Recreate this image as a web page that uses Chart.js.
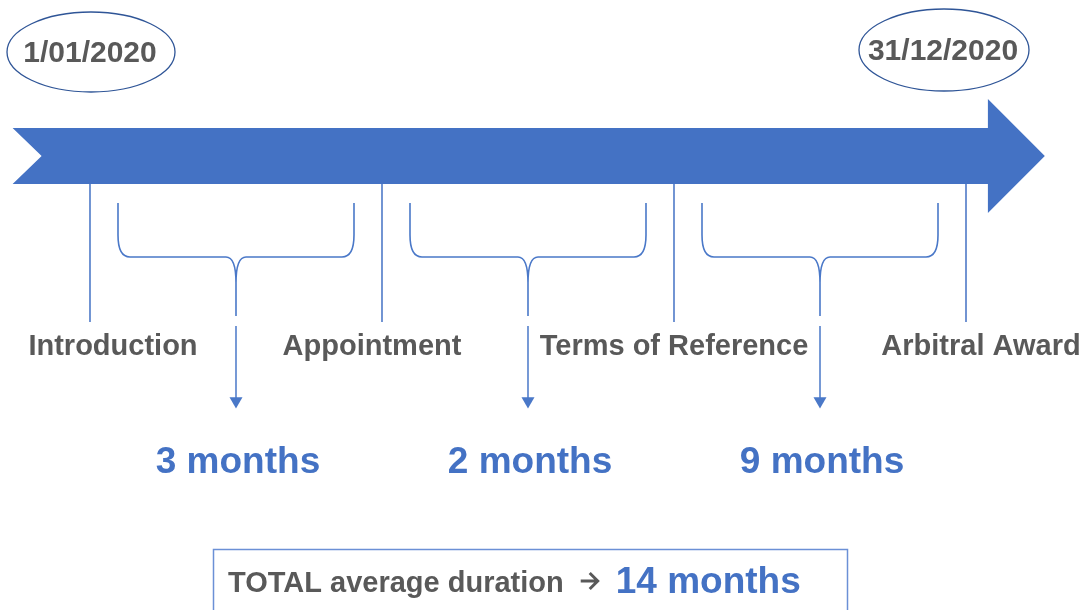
<!DOCTYPE html>
<html>
<head>
<meta charset="utf-8">
<script src="https://cdn.jsdelivr.net/npm/chart.js@4"></script>
<style>
  html, body { margin: 0; padding: 0; background: #fff; }
  #wrap { width: 1088px; height: 610px; }
</style>
</head>
<body>
<div id="wrap"><canvas id="timeline" width="1088" height="610"></canvas></div>
<script>
'use strict'

//Data
let milestones = ['Introduction', 'Appointment', 'Terms of Reference', 'Arbitral Award']
let durations = [3, 2, 9]          // months between two milestones
let startDate = '1/01/2020'
let endDate = '31/12/2020'
let unit = 'months'

let totalMonths = durations.reduce((a, b) => a + b, 0)

//Colours
let blue = '#4472C4'
let lineBlue = '#4a78c8'
let grey = '#595959'
let font = '"Liberation Sans", Arial, sans-serif'

let ctx = document.getElementById('timeline').getContext('2d')

//Vertical milestone lines + down arrows under each brace
let datasets = []
milestones.forEach((m, i) => {
    datasets.push({
        label: m,
        data: [{x: i, y: 184}, {x: i, y: 322}],
        showLine: true,
        borderColor: blue,
        borderWidth: 1.5,
        pointRadius: 0
    })
})
durations.forEach((d, i) => {
    datasets.push({
        label: d + ' ' + unit,
        data: [{x: i + 0.5, y: 326}, {x: i + 0.5, y: 401}],
        showLine: true,
        borderColor: lineBlue,
        borderWidth: 1.5,
        pointStyle: 'triangle',
        pointRotation: 180,
        pointRadius: [0, 7.5],
        pointBackgroundColor: lineBlue,
        pointBorderWidth: 0
    })
})

function drawText(c, txt, x, y, size, color, align) {
    c.font = 'bold ' + size + 'px ' + font
    c.fillStyle = color
    c.textAlign = align || 'center'
    c.textBaseline = 'alphabetic'
    c.fillText(txt, x, y)
}

function brace(c, L, R, C) {
    let T = 203, M = 257, B = 316
    c.beginPath()
    c.moveTo(L, T)
    c.lineTo(L, M - 22)
    c.quadraticCurveTo(L, M, L + 12, M)
    c.lineTo(C - 10, M)
    c.quadraticCurveTo(C, M, C, M + 26)
    c.lineTo(C, B)
    c.moveTo(C, M + 26)
    c.quadraticCurveTo(C, M, C + 10, M)
    c.lineTo(R - 12, M)
    c.quadraticCurveTo(R, M, R, M - 22)
    c.lineTo(R, T)
    c.stroke()
}

let timelinePlugin = {
    id: 'timeline',
    beforeDatasetsDraw(chart) {
        let c = chart.ctx
        let x = chart.scales.x
        let y = chart.scales.y
        let x0 = x.getPixelForValue(-0.265)
        let xh = x.getPixelForValue(3.075)
        let xt = x.getPixelForValue(3.27)
        //big timeline arrow
        c.save()
        c.fillStyle = blue
        c.beginPath()
        c.moveTo(x0, y.getPixelForValue(128))
        c.lineTo(xh, y.getPixelForValue(128))
        c.lineTo(xh, y.getPixelForValue(99))
        c.lineTo(xt, y.getPixelForValue(156))
        c.lineTo(xh, y.getPixelForValue(213))
        c.lineTo(xh, y.getPixelForValue(184))
        c.lineTo(x0, y.getPixelForValue(184))
        c.lineTo(x0 + 29, y.getPixelForValue(156))
        c.closePath()
        c.fill()
        c.restore()
    },
    afterDatasetsDraw(chart) {
        let c = chart.ctx
        let x = chart.scales.x
        c.save()

        //date ellipses
        let dates = [[startDate, x.getPixelForValue(0) + 1, 52, 84, 40], [endDate, x.getPixelForValue(3) - 22, 50, 85, 41]]
        dates.forEach(d => {
            c.beginPath()
            c.ellipse(d[1], d[2], d[3], d[4], 0, 0, Math.PI * 2)
            c.fillStyle = '#fff'
            c.fill()
            c.strokeStyle = '#2F5597'
            c.lineWidth = 1.3
            c.stroke()
            drawText(c, d[0], d[1] - 1, d[2] + 10, 30, grey)
        })

        //braces + month labels
        c.strokeStyle = lineBlue
        c.lineWidth = 1.6
        durations.forEach((d, i) => {
            let C = x.getPixelForValue(i + 0.5)
            brace(c, C - 118, C + 118, C)
            drawText(c, d + ' ' + unit, C + 2, 473, 37, blue)
        })

        //milestone names
        let shift = [23, -10, 0, 15]
        milestones.forEach((m, i) => {
            drawText(c, m, x.getPixelForValue(i) + shift[i], 355, 29, grey)
        })

        //total box
        c.strokeStyle = '#6b90d6'
        c.lineWidth = 1.5
        c.strokeRect(213.5, 549.5, 634, 70)
        let tx = 228
        let t1 = 'TOTAL average duration'
        drawText(c, t1, tx, 592, 29, grey, 'left')
        tx += c.measureText(t1).width + 17
        // little arrow between text and total
        c.strokeStyle = grey
        c.lineWidth = 3
        c.beginPath()
        c.moveTo(tx, 581)
        c.lineTo(tx + 17, 581)
        c.moveTo(tx + 9, 573)
        c.lineTo(tx + 17, 581)
        c.lineTo(tx + 9, 589)
        c.stroke()
        drawText(c, totalMonths + ' ' + unit, tx + 35, 593, 37, blue, 'left')

        c.restore()
    }
}

let timelineChart = new Chart(ctx, {
    type: 'scatter',
    data: { datasets: datasets },
    options: {
        responsive: false,
        animation: false,
        events: [],
        layout: { padding: 0, autoPadding: false },
        plugins: {
            legend: { display: false },
            tooltip: { enabled: false }
        },
        scales: {
            x: { type: 'linear', display: false, min: -0.3082, max: 3.4178 },
            y: { type: 'linear', display: false, min: 0, max: 610, reverse: true }
        }
    },
    plugins: [timelinePlugin]
})
</script>
</body>
</html>
